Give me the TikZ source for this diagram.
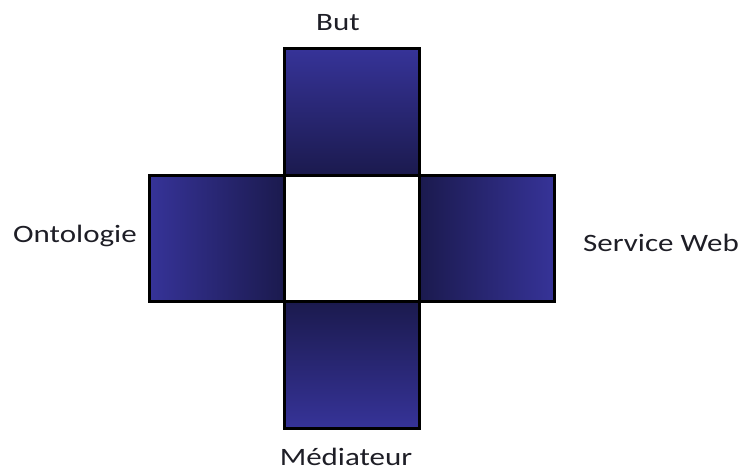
\documentclass[tikz,border=0pt]{standalone}
\usepackage{fontspec}
\setmainfont{Carlito}[FakeStretch=1.24]
\definecolor{lightblue}{RGB}{54,51,152}
\definecolor{darkblue}{RGB}{27,26,78}
\definecolor{txt}{RGB}{30,30,38}
\begin{document}
\begin{tikzpicture}[x=1pt,y=-1pt,
  sq/.style={draw=black, line width=2.8pt, minimum width=135pt, minimum height=126.5pt, inner sep=0pt, outer sep=0pt},
  lbl/.style={anchor=base, inner sep=0pt, text=txt, font=\fontsize{25}{30}\selectfont}]
\useasboundingbox (0,0) rectangle (745,470);
\node[sq, top color=lightblue, bottom color=darkblue] (but) at (352,112) {};
\node[sq, top color=darkblue, bottom color=lightblue] (med) at (352,365) {};
\node[sq, left color=lightblue, right color=darkblue] (onto) at (217,238.5) {};
\node[sq, left color=darkblue, right color=lightblue] (ws) at (487,238.5) {};
\node[sq, fill=white] (ctr) at (352,238.5) {};
\node[lbl] (tbut) at (338,31) {But};
\node[lbl] (tonto) at (75,243) {Ontologie};
\node[lbl] (tws) at (661,252) {Service Web};
\node[lbl] (tmed) at (346,465) {Médiateur};
\end{tikzpicture}
\end{document}
